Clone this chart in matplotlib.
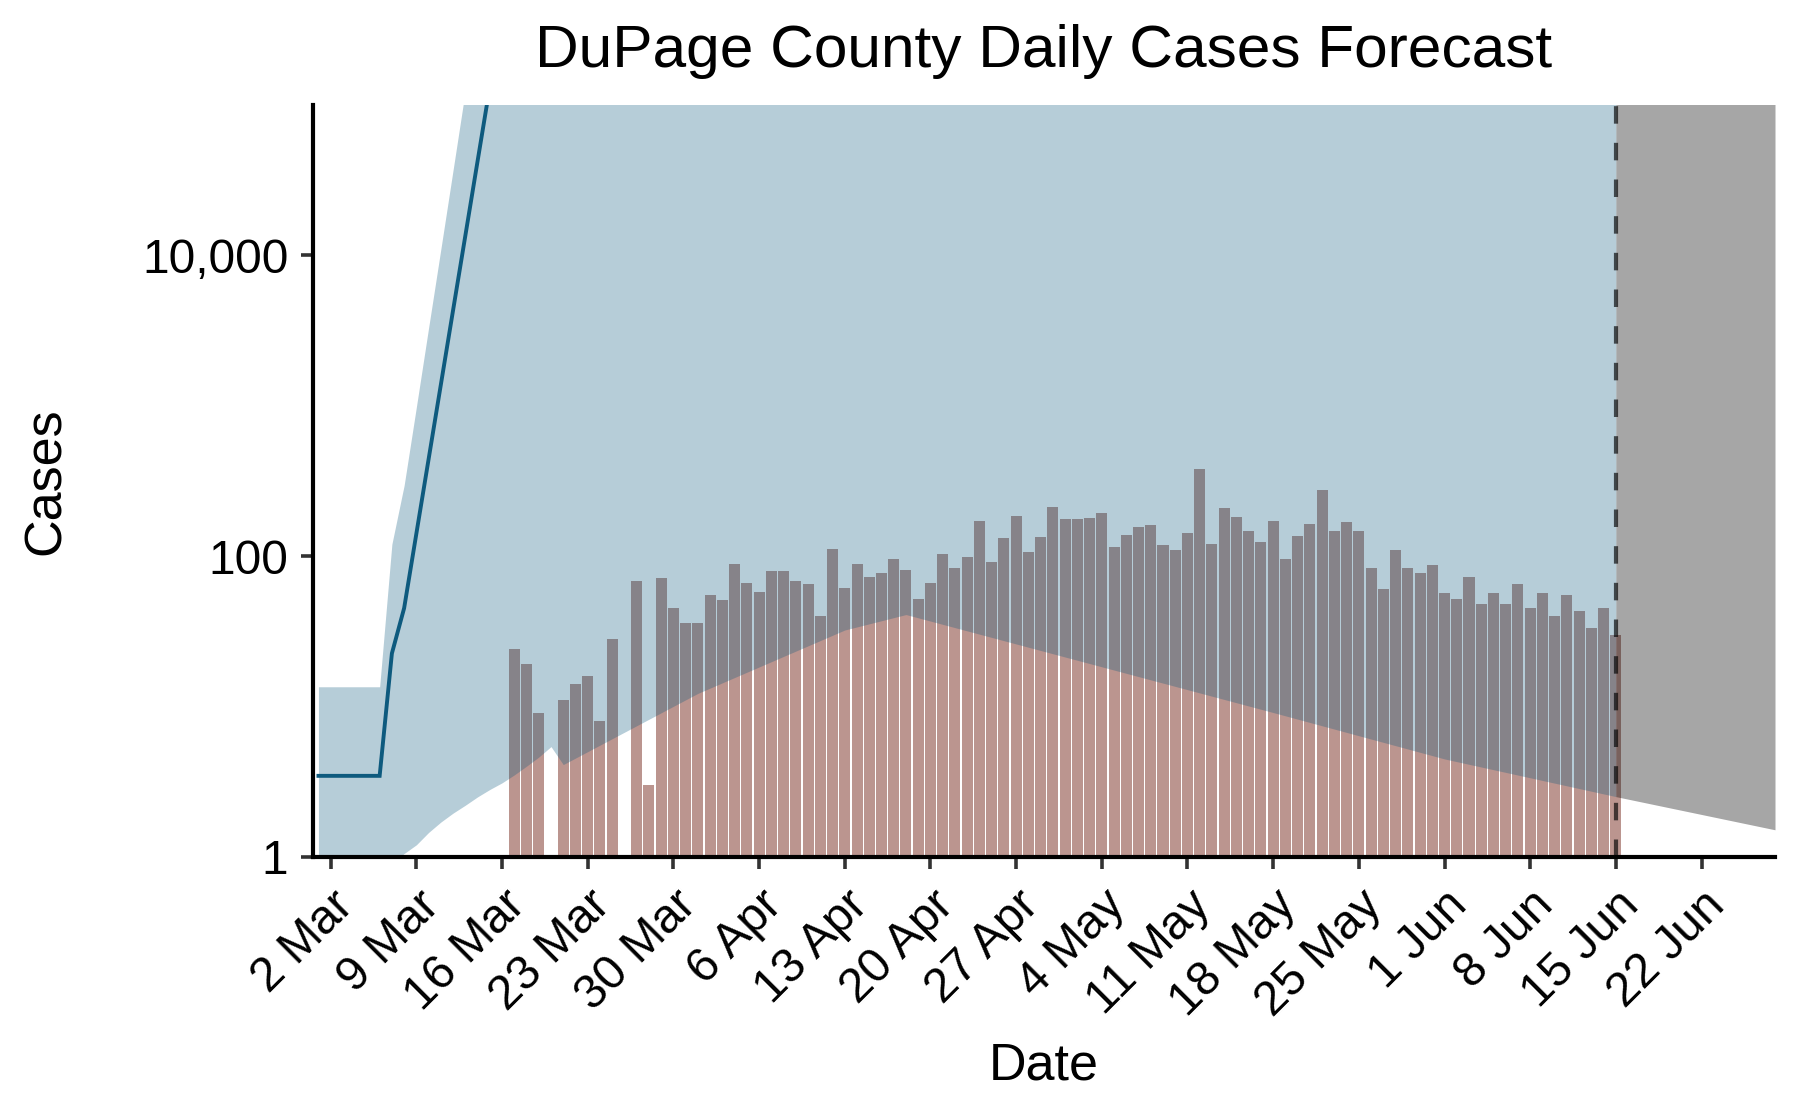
import matplotlib
matplotlib.use("Agg")
import matplotlib.pyplot as plt
import matplotlib.dates as mdates
import numpy as np

plt.rcParams['font.family'] = ['Liberation Sans', 'DejaVu Sans']

# ---------------- data ----------------
title = "DuPage County Daily Cases Forecast"
x_label = "Date"
y_label = "Cases"

# observed daily cases (NaN = no report)
case_start = "2020-03-17"
case_end = "2020-06-15"
cases = [24, 19, 9, np.nan, 11, 14, 16, 8, 28, np.nan, 68, 3, 71, 45, 36,      # Mar 17-31
         36, 55, 51, 89, 66, 58, 79, 79, 68, 65, 40, 112, 61, 88, 73,           # Apr 1-15
         77, 96, 81, 52, 66, 103, 83, 99, 170, 91, 131, 184, 107, 133, 211,     # Apr 16-30
         176, 176, 178, 193, 114, 137, 155, 160, 118, 109, 142, 379, 121, 208,  # May 1-14
         181, 146, 123, 170, 95, 135, 163, 274, 146, 168, 146, 83, 60, 109,     # May 15-28
         83, 77, 87,                                                            # May 29-31
         57, 52, 72, 48, 57, 48, 65, 45, 57, 40, 55, 43, 33, 45, 30]            # Jun 1-15

# fitted curve (median) - early period
line_dates = ["2020-03-01", "2020-03-02", "2020-03-03", "2020-03-04", "2020-03-05",
              "2020-03-06", "2020-03-07", "2020-03-08", "2020-03-09", "2020-03-10",
              "2020-03-11", "2020-03-12", "2020-03-13", "2020-03-14", "2020-03-15",
              "2020-03-16"]
line_vals = [3.45, 3.45, 3.45, 3.45, 3.45, 3.45, 22.5, 45, 141, 441,
             1380, 4320, 13500, 42300, 132000, 413000]

# uncertainty band (fit period)
band_dates = ["2020-03-01", "2020-03-06", "2020-03-07", "2020-03-08", "2020-03-09",
              "2020-03-10", "2020-03-11", "2020-03-12", "2020-03-13", "2020-03-14",
              "2020-03-15", "2020-03-16", "2020-03-17", "2020-03-18", "2020-03-19",
              "2020-03-20", "2020-03-21", "2020-04-01", "2020-04-13", "2020-04-18",
              "2020-05-18", "2020-06-01", "2020-06-15"]
band_lower = [0.1, 0.3, 0.9, 1.05, 1.2, 1.45, 1.7, 1.95, 2.2, 2.5, 2.8, 3.1, 3.5,
              4.0, 4.6, 5.4, 4.1, 12.2, 32.2, 40.8, 9.1, 4.47, 2.51]
band_upper = [13.5, 13.5, 120, 295, 980, 3300, 11000, 37000, 125000, 4e5, 1e6, 1e6,
              1e6, 1e6, 1e6, 1e6, 1e6, 1e6, 1e6, 1e6, 1e6, 1e6, 1e6]

# forecast band (future)
fc_dates = ["2020-06-15", "2020-06-28"]
fc_lower = [2.51, 1.51]
fc_upper = [1e6, 1e6]

forecast_start = "2020-06-15"

x_ticks = ["2020-03-02", "2020-03-09", "2020-03-16", "2020-03-23", "2020-03-30",
           "2020-04-06", "2020-04-13", "2020-04-20", "2020-04-27", "2020-05-04",
           "2020-05-11", "2020-05-18", "2020-05-25", "2020-06-01", "2020-06-08",
           "2020-06-15", "2020-06-22"]
x_tick_labels = ["2 Mar", "9 Mar", "16 Mar", "23 Mar", "30 Mar", "6 Apr", "13 Apr",
                 "20 Apr", "27 Apr", "4 May", "11 May", "18 May", "25 May", "1 Jun",
                 "8 Jun", "15 Jun", "22 Jun"]
y_ticks = [1, 100, 10000]
y_tick_labels = ["1", "100", "10,000"]

# ---------------- helpers ----------------
def dn(lst):
    return mdates.date2num(np.array(lst, dtype="datetime64[D]"))

line_col = "#0E5A7E"
bar_col = "#BB958F"

W, H = 1800, 1113
fig = plt.figure(figsize=(W / 100, H / 100), dpi=100)
ax_l, ax_r, ax_t, ax_b = 312.7, 1775, 105, 856.7
ax = fig.add_axes([ax_l / W, 1 - ax_b / H, (ax_r - ax_l) / W, (ax_b - ax_t) / H])

case_x = np.arange(np.datetime64(case_start), np.datetime64(case_end) + 1)
ax.bar(dn(case_x), cases, width=0.9, bottom=0.01, color=bar_col, linewidth=0, zorder=1)

ax.fill_between(dn(band_dates), band_lower, band_upper, color=line_col, alpha=0.3,
                linewidth=0, zorder=2)
ax.fill_between(dn(fc_dates), fc_lower, fc_upper, color="black", alpha=0.35,
                linewidth=0, zorder=2)
ax.plot(dn(line_dates), line_vals, color=line_col, linewidth=2.8, zorder=3,
        solid_joinstyle="miter")
ax.axvline(dn([forecast_start])[0], color="black", alpha=0.65, linewidth=3,
           linestyle=(0, (4.2, 4.6)), zorder=4)

ax.set_yscale("log")
ax.set_ylim(1, 1e5)
ax.set_xlim(dn(["2020-03-01"])[0] - 0.47, dn(["2020-06-28"])[0])

ax.set_yticks(y_ticks)
ax.set_yticklabels(y_tick_labels)
ax.yaxis.set_minor_locator(matplotlib.ticker.NullLocator())
ax.set_xticks(dn(x_ticks))
ax.set_xticklabels(x_tick_labels, rotation=45, ha="right", va="top",
                   rotation_mode="anchor")

for s in ["top", "right"]:
    ax.spines[s].set_visible(False)
for s in ["left", "bottom"]:
    ax.spines[s].set_linewidth(3)
    ax.spines[s].set_color("black")
ax.tick_params(axis="both", which="major", direction="out", length=8.6, width=2.6,
               color="#333333", labelsize=34.5, labelcolor="black")
ax.tick_params(axis="y", pad=9)
ax.tick_params(axis="x", pad=10)

fig.text(1044 / W, 1 - 67.3 / H, title, ha="center", va="baseline", fontsize=43.5)
fig.text(1044 / W, 1 - 1079 / H, x_label, ha="center", va="baseline", fontsize=37.5)
fig.text(46 / W, 1 - 481 / H, y_label, ha="center", va="center", rotation=90,
         fontsize=37.5)

fig.savefig("out.png", dpi=100)
